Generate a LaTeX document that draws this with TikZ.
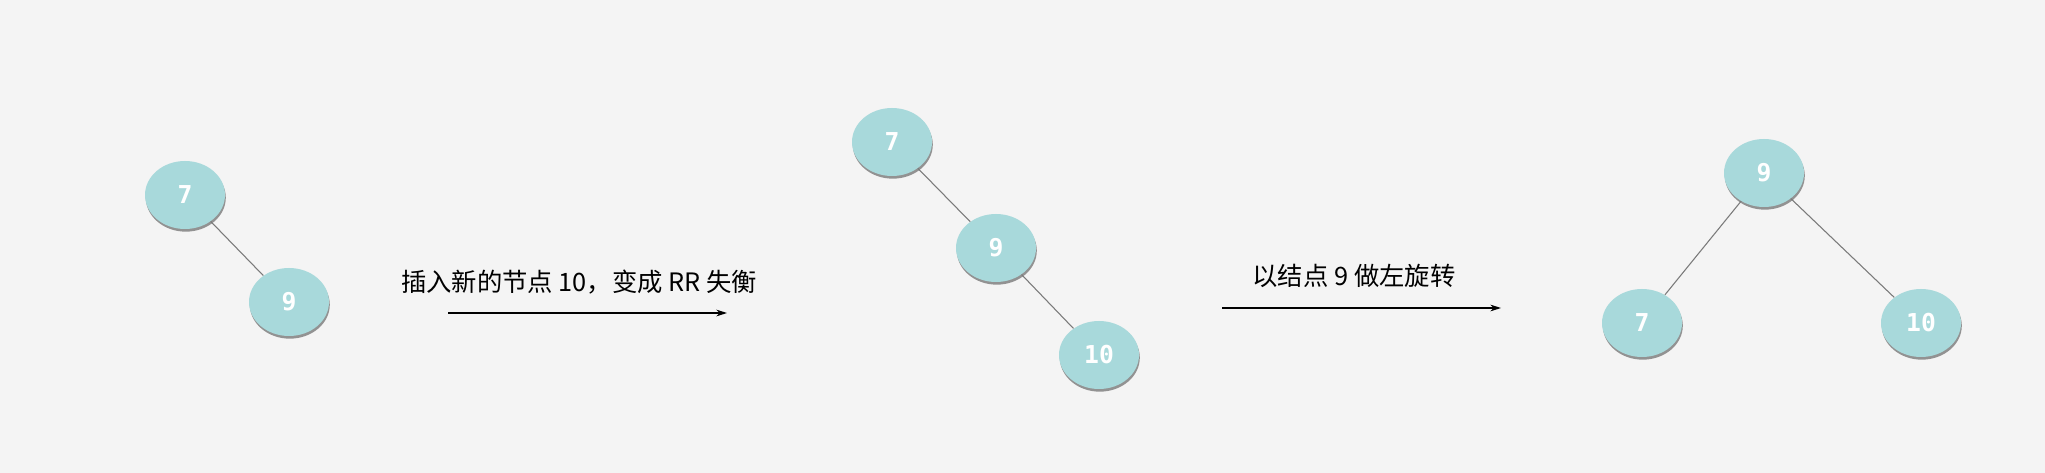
\documentclass[tikz,border=0pt]{standalone}
\usepackage{fontspec}
\setmainfont{Noto Sans CJK SC}
\newfontfamily\digitfont{DejaVu Sans Mono}
\usetikzlibrary{shapes.geometric,shadows,arrows.meta}
\definecolor{bgc}{HTML}{F4F4F4}
\definecolor{nodefill}{HTML}{A8D9DB}
\definecolor{edgec}{HTML}{7A7A7A}
\tikzset{
  tnode/.style={ellipse, fill=nodefill, minimum width=80*0.75pt, minimum height=68*0.75pt, inner sep=0pt,
    text=white, font=\digitfont\bfseries\fontsize{18.5}{18.5}\selectfont,
    drop shadow={shadow xshift=0.6pt, shadow yshift=-2pt, fill=black, opacity=0.4}},
  tedge/.style={draw=edgec, line width=0.8pt},
  steparrow/.style={draw=black, line width=0.9pt, -{Stealth[length=8pt,width=5pt,inset=2.5pt]}},
  caption/.style={font=\fontsize{19}{19}\selectfont, text=black, inner sep=0pt}
}
\begin{document}
\begin{tikzpicture}[x=0.75pt,y=-0.75pt]
\fill[bgc] (0,0) rectangle (2045,473);
\useasboundingbox (0,0) rectangle (2045,473);
% left tree
\node[tnode] (a7) at (185,195) {7};
\node[tnode] (a9) at (289,302) {9};
\draw[tedge] (a7) -- (a9);
% arrow 1
\node[caption] (t1) at (579,282) {插入新的节点 10，变成 RR 失衡};
\coordinate (p1s) at (448,313);
\coordinate (p1e) at (727,313);
\draw[steparrow] (p1s) -- (p1e);
% middle tree
\node[tnode] (b7) at (892,142) {7};
\node[tnode] (b9) at (996,248) {9};
\node[tnode] (b10) at (1099,355) {10};
\draw[tedge] (b7) -- (b9);
\draw[tedge] (b9) -- (b10);
% arrow 2
\node[caption] (t2) at (1354,276) {以结点 9 做左旋转};
\coordinate (p2s) at (1222,308);
\coordinate (p2e) at (1501,308);
\draw[steparrow] (p2s) -- (p2e);
% right tree
\node[tnode] (c9) at (1764,173) {9};
\node[tnode] (c7) at (1642,323) {7};
\node[tnode] (c10) at (1921,323) {10};
\draw[tedge] (c9) -- (c7);
\draw[tedge] (c9) -- (c10);
\end{tikzpicture}
\end{document}
